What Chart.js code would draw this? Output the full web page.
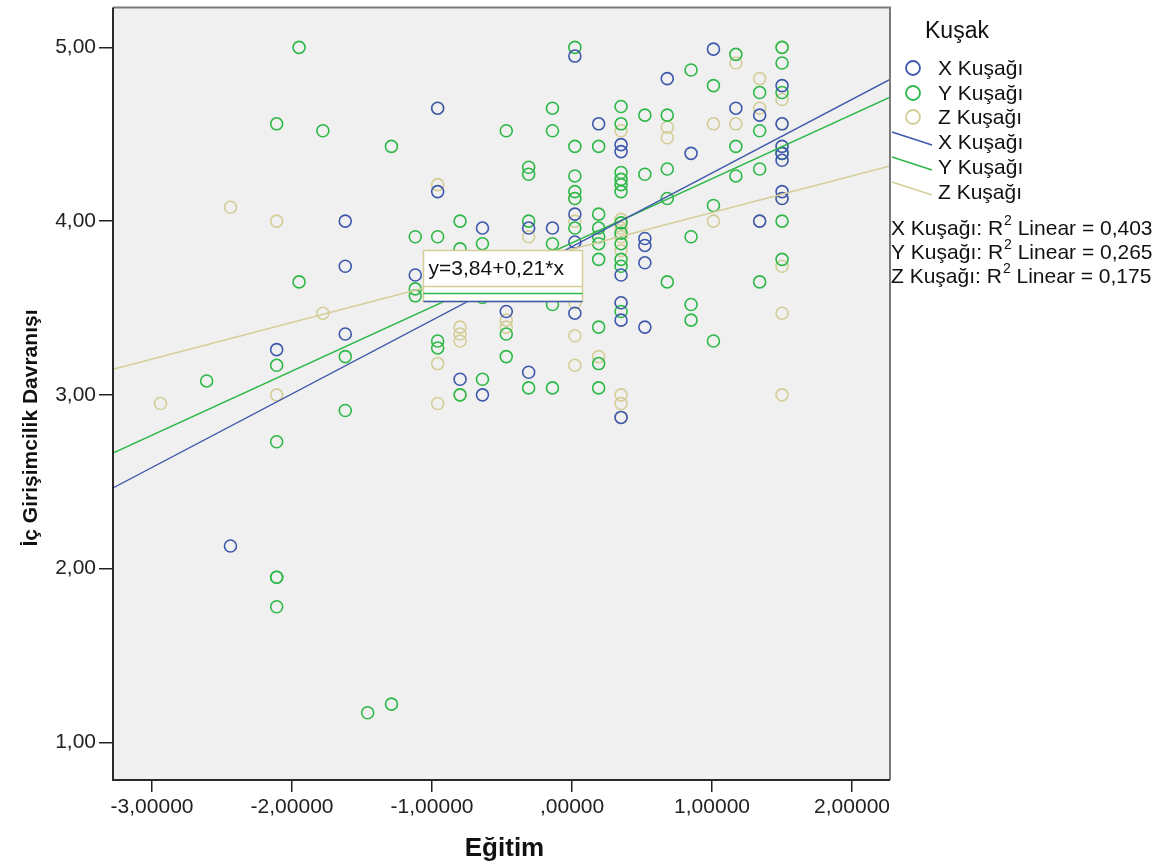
<!DOCTYPE html>
<html>
<head>
<meta charset="utf-8">
<script src="https://cdn.jsdelivr.net/npm/chart.js@4/dist/chart.umd.min.js"></script>
<style>
	html, body { margin: 0; padding: 0; background: #fff; }
	#wrap { width: 1160px; height: 866px; }
</style>
</head>
<body>
<div id="wrap"><canvas id="chart" width="1160" height="866"></canvas></div>
<script>
// Kuşak groups, points as [Eğitim, İç Girişimcilik Davranışı]
const xKusagi = [
	[-1.62,4.00],[-1.62,3.74],[-1.62,3.35],[-2.11,3.26],[-2.44,2.13],
	[0.02,4.95],[-0.96,4.65],[0.19,4.56],[-0.96,4.17],[0.02,4.04],
	[-0.64,3.96],[-0.14,3.96],[-0.31,3.96],[0.02,3.88],[0.35,4.44],[0.35,4.40],
	[0.85,4.39],[0.52,3.90],[0.52,3.86],[0.52,3.76],[0.35,3.69],[0.02,3.47],
	[0.35,3.53],[0.35,3.43],[0.52,3.39],[-0.31,3.13],[-1.12,3.69],[-0.47,3.48],
	[-0.80,3.09],[-0.64,3.00],[0.35,2.87],[1.01,4.99],[0.68,4.82],[1.50,4.78],
	[1.17,4.65],[1.34,4.61],[1.50,4.56],[1.50,4.43],[1.50,4.39],[1.50,4.35],
	[1.50,4.17],[1.50,4.13],[1.34,4.00]
];
const yKusagi = [
	[-1.95,5.00],[-2.11,4.56],[-1.78,4.52],[-1.95,3.65],[-1.62,3.22],[-2.11,3.17],
	[-2.61,3.08],[-1.62,2.91],[-2.11,2.73],[-2.11,1.95],[-2.11,1.95],[-2.11,1.78],
	[-1.46,1.17],[-1.29,1.22],
	[0.02,5.00],[-0.14,4.65],[-0.47,4.52],[-0.14,4.52],[-1.29,4.43],[0.02,4.43],
	[0.19,4.43],[-0.31,4.31],[-0.31,4.27],[0.02,4.26],[0.02,4.17],[0.02,4.13],
	[0.19,4.04],[-0.80,4.00],[-0.31,4.00],[-1.12,3.91],[-0.96,3.91],[-0.64,3.87],
	[-0.14,3.87],[0.02,3.96],[0.19,3.96],[0.19,3.91],[0.19,3.87],[-0.80,3.84],
	[0.35,4.66],[0.35,4.56],[0.52,4.61],[0.68,4.61],[0.35,4.28],[0.35,4.24],
	[0.35,4.21],[0.35,4.17],[0.52,4.27],[0.68,4.30],[0.68,4.13],[0.35,3.99],
	[0.35,3.93],[0.35,3.87],[0.35,3.78],[0.19,3.78],[0.35,3.74],[0.85,3.91],
	[0.68,3.65],[-0.14,3.52],[0.35,3.48],[0.19,3.39],[0.85,3.52],[0.85,3.43],
	[1.01,3.31],[0.19,3.18],[-0.31,3.04],[-0.14,3.04],[0.19,3.04],[-1.12,3.61],
	[-1.12,3.57],[-0.64,3.56],[-0.47,3.35],[-0.47,3.22],[-0.96,3.31],[-0.96,3.27],
	[-0.64,3.09],[-0.80,3.00],
	[1.17,4.96],[1.50,5.00],[1.50,4.91],[0.85,4.87],[1.01,4.78],[1.50,4.74],
	[1.34,4.74],[1.34,4.52],[1.17,4.43],[1.50,4.39],[1.17,4.26],[1.34,4.30],
	[1.01,4.09],[1.50,4.00],[1.50,3.78],[1.34,3.65]
];
const zKusagi = [
	[-2.44,4.08],[-2.11,4.00],[-1.78,3.47],[-2.11,3.00],[-2.94,2.95],[-0.96,4.65],
	[-0.96,4.21],[0.02,4.13],[0.02,4.00],[-0.31,3.91],[0.35,4.52],[0.68,4.54],
	[0.68,4.48],[0.35,4.01],[0.35,3.96],[0.35,3.91],[0.35,3.83],[0.02,3.53],
	[0.35,3.53],[0.02,3.34],[0.19,3.22],[0.02,3.17],[0.35,3.00],[0.35,2.95],
	[0.35,2.87],[-0.47,3.43],[-0.47,3.39],[-0.80,3.39],[-0.80,3.35],[-0.80,3.31],
	[-0.96,3.18],[-0.80,3.00],[-0.96,2.95],[1.17,4.91],[1.50,5.00],[1.34,4.82],
	[1.50,4.70],[1.34,4.65],[1.01,4.56],[1.17,4.56],[1.50,4.56],[1.50,4.13],
	[1.01,4.00],[1.34,4.00],[1.50,3.74],[1.50,3.47],[1.50,3.00]
];

// fit line end points, read at the axis edges
const fitX = [[-3.279,2.464],[2.271,4.816]];
const fitY = [[-3.279,2.665],[2.271,4.713]];
const fitZ = [[-3.279,3.147],[2.271,4.317]];

const groupNames = ['X Kuşağı', 'Y Kuşağı', 'Z Kuşağı'];
const rSquared = ['0,403', '0,265', '0,175'];
const fitLabel = 'y=3,84+0,21*x';

const xTicks = [-3, -2, -1, 0, 1, 2];
const yTicks = [1, 2, 3, 4, 5];

const COLORS = ['#3E58AC', '#2EB848', '#D3CE97'];
const FONT = "'Liberation Sans', Arial, sans-serif";

var toPts = (arr) => arr.map(p => ({ x: p[0], y: p[1] }));

var spssNum = (v, d) => {
	var s = v.toFixed(d).replace('.', ',');
	return s.replace(/^(-?)0,/, '$1,');
};

var pointSet = (label, arr, color) => ({
	label: label,
	data: toPts(arr),
	pointStyle: 'circle',
	pointRadius: 6,
	pointBorderWidth: 1.6,
	borderColor: color,
	backgroundColor: 'rgba(0,0,0,0)',
	showLine: false,
	order: 2
});

var lineSet = (label, arr, color) => ({
	label: label,
	data: toPts(arr),
	showLine: true,
	pointRadius: 0,
	borderColor: color,
	borderWidth: 1.4,
	backgroundColor: color,
	order: 1
});

var framePlugin = {
	id: 'frame',
	beforeDraw: (chart) => {
		const a = chart.chartArea, c = chart.ctx;
		c.save();
		c.fillStyle = '#f0f0f0';
		c.fillRect(a.left, a.top, a.right - a.left, a.bottom - a.top);
		c.restore();
	},
	afterDatasetsDraw: (chart) => {
		const a = chart.chartArea, c = chart.ctx;
		const xs = chart.scales.x, ys = chart.scales.y;
		c.save();
		// label box of the Z fit line
		const bx = Math.round(xs.getPixelForValue(-1.064)) + 0.5;
		const by = Math.round(ys.getPixelForValue(3.835)) + 0.5;
		const bw = 159, bh = 51;
		c.fillStyle = '#ffffff';
		c.fillRect(bx, by, bw, bh);
		c.lineWidth = 1.5;
		c.strokeStyle = COLORS[2];
		c.strokeRect(bx, by, bw, bh);
		c.beginPath(); c.moveTo(bx, by + 36); c.lineTo(bx + bw, by + 36); c.stroke();
		c.strokeStyle = COLORS[1];
		c.beginPath(); c.moveTo(bx, by + 43); c.lineTo(bx + bw, by + 43); c.stroke();
		c.strokeStyle = COLORS[0];
		c.beginPath(); c.moveTo(bx, by + bh); c.lineTo(bx + bw, by + bh); c.stroke();
		c.fillStyle = '#111';
		c.font = '21px ' + FONT;
		c.textBaseline = 'middle';
		c.textAlign = 'left';
		c.fillText(fitLabel, bx + 5, by + 19);

		// plot frame
		c.lineWidth = 2;
		c.strokeStyle = '#7a7a7a';
		c.beginPath();
		c.moveTo(a.left, a.top); c.lineTo(a.right, a.top); c.lineTo(a.right, a.bottom);
		c.stroke();
		c.strokeStyle = '#2a2a2a';
		c.beginPath();
		c.moveTo(a.left, a.top); c.lineTo(a.left, a.bottom); c.lineTo(a.right, a.bottom);
		c.stroke();
		c.restore();
	},
	afterDraw: (chart) => {
		const a = chart.chartArea, c = chart.ctx;
		c.save();
		c.fillStyle = '#111';

		// axis titles
		c.font = 'bold 26px ' + FONT;
		c.textAlign = 'center';
		c.textBaseline = 'middle';
		c.fillText('Eğitim', (a.left + a.right) / 2 + 3, 849);
		c.save();
		c.translate(31, 428);
		c.rotate(-Math.PI / 2);
		c.font = 'bold 21px ' + FONT;
		c.fillText('İç Girişimcilik Davranışı', 0, 0);
		c.restore();

		// legend
		c.textAlign = 'left';
		c.font = '23px ' + FONT;
		c.fillText('Kuşak', 925, 32);
		c.font = '21px ' + FONT;
		const rowsPt = [68, 93, 117];
		const rowsLn = [143, 168, 193];
		for (let i = 0; i < 3; i++) {
			c.strokeStyle = COLORS[i];
			c.lineWidth = 1.8;
			c.beginPath();
			c.arc(913, rowsPt[i], 7, 0, Math.PI * 2);
			c.stroke();
			c.fillText(groupNames[i], 938, rowsPt[i] + 1);
			c.lineWidth = 1.5;
			c.beginPath();
			c.moveTo(892, rowsLn[i] - 11);
			c.lineTo(932, rowsLn[i] + 2);
			c.stroke();
			c.fillText(groupNames[i], 938, rowsLn[i]);
		}

		// R squared lines
		const rowsR = [229, 253, 277];
		for (let i = 0; i < 3; i++) {
			let x = 891;
			c.font = '21px ' + FONT;
			let s = groupNames[i] + ': R';
			c.fillText(s, x, rowsR[i]);
			x += c.measureText(s).width;
			c.font = '14px ' + FONT;
			c.fillText('2', x + 1, rowsR[i] - 8);
			x += c.measureText('2').width + 1;
			c.font = '21px ' + FONT;
			c.fillText(' Linear = ' + rSquared[i], x, rowsR[i]);
		}
		c.restore();
	}
};

var onPageLoaded = () => {
	const ctx = document.getElementById('chart');

	const data = {
		datasets: [
			lineSet(groupNames[0], fitX, COLORS[0]),
			lineSet(groupNames[1], fitY, COLORS[1]),
			lineSet(groupNames[2], fitZ, COLORS[2]),
			pointSet(groupNames[0], xKusagi, COLORS[0]),
			pointSet(groupNames[1], yKusagi, COLORS[1]),
			pointSet(groupNames[2], zKusagi, COLORS[2])
		]
	};

	const tickFont = { family: FONT, size: 21 };

	new Chart(ctx, {
		type: 'scatter',
		data: data,
		options: {
			responsive: false,
			animation: false,
			layout: { padding: { left: 0, top: 5, right: 270, bottom: 0 } },
			plugins: {
				legend: { display: false },
				tooltip: { enabled: false }
			},
			scales: {
				x: {
					type: 'linear',
					min: -3.279,
					max: 2.271,
					afterFit: (s) => { s.height = 86; s.paddingLeft = 0; s.paddingRight = 0; },
					afterBuildTicks: (s) => { s.ticks = xTicks.map(v => ({ value: v })); },
					grid: { drawOnChartArea: false, drawTicks: true, tickLength: 12, color: '#222', lineWidth: 1.5 },
					border: { display: false },
					ticks: { font: tickFont, color: '#222', padding: 3, maxRotation: 0, autoSkip: false,
						callback: (v) => spssNum(v, 5) }
				},
				y: {
					type: 'linear',
					min: 0.783,
					max: 5.229,
					afterFit: (s) => { s.width = 113; s.paddingTop = 0; s.paddingBottom = 0; },
					afterBuildTicks: (s) => { s.ticks = yTicks.map(v => ({ value: v })); },
					grid: { drawOnChartArea: false, drawTicks: true, tickLength: 14, color: '#222', lineWidth: 1.5 },
					border: { display: false },
					ticks: { font: tickFont, color: '#222', padding: 3, autoSkip: false,
						callback: (v) => spssNum(v, 2) }
				}
			}
		},
		plugins: [framePlugin]
	});
};

onPageLoaded();
</script>
</body>
</html>
